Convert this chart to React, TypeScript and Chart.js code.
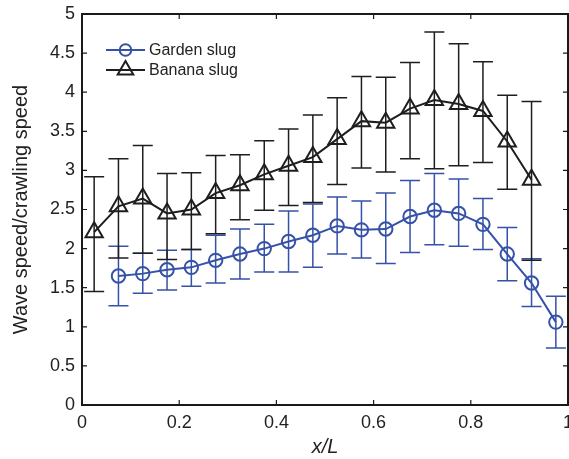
import React, { useEffect, useRef } from "react";
import { Chart, registerables } from "chart.js";

Chart.register(...registerables);

// ---- data ----
const bananaX = [0.025, 0.075, 0.125, 0.175, 0.225, 0.275, 0.325, 0.375, 0.425, 0.475, 0.525, 0.575, 0.625, 0.675, 0.725, 0.775, 0.825, 0.875, 0.925];
const bananaY = [2.21, 2.54, 2.64, 2.45, 2.5, 2.71, 2.81, 2.95, 3.06, 3.17, 3.4, 3.63, 3.61, 3.79, 3.9, 3.85, 3.76, 3.37, 2.88];
const bananaHi = [2.92, 3.15, 3.32, 2.96, 2.97, 3.19, 3.2, 3.38, 3.53, 3.71, 3.93, 4.2, 4.19, 4.38, 4.77, 4.62, 4.39, 3.96, 3.88];
const bananaLo = [1.45, 1.88, 1.94, 1.86, 1.99, 2.19, 2.37, 2.49, 2.55, 2.59, 2.82, 3.03, 2.98, 3.15, 3.02, 3.06, 3.1, 2.76, 1.85];

const gardenX = [0.075, 0.125, 0.175, 0.225, 0.275, 0.325, 0.375, 0.425, 0.475, 0.525, 0.575, 0.625, 0.675, 0.725, 0.775, 0.825, 0.875, 0.925, 0.975];
const gardenY = [1.65, 1.68, 1.73, 1.76, 1.85, 1.93, 2.0, 2.09, 2.17, 2.29, 2.24, 2.25, 2.41, 2.49, 2.45, 2.31, 1.93, 1.56, 1.06];
const gardenHi = [2.03, 1.94, 1.98, 1.99, 2.17, 2.25, 2.31, 2.48, 2.57, 2.66, 2.61, 2.71, 2.87, 2.96, 2.89, 2.64, 2.27, 1.87, 1.39];
const gardenLo = [1.27, 1.43, 1.47, 1.52, 1.56, 1.61, 1.7, 1.7, 1.76, 1.93, 1.88, 1.81, 1.95, 2.05, 2.03, 1.99, 1.59, 1.26, 0.73];

const xTicks = [0, 0.2, 0.4, 0.6, 0.8, 1];
const yTicks = [0, 0.5, 1, 1.5, 2, 2.5, 3, 3.5, 4, 4.5, 5];

const seriesNames = ["Garden slug", "Banana slug"];
const BLUE = "#3552a8";
const BLACK = "#1e1e1e";
const FONT = "'Liberation Sans', Arial, Helvetica, sans-serif";

const errorBars = [
  { x: gardenX, hi: gardenHi, lo: gardenLo, color: BLUE },
  { x: bananaX, hi: bananaHi, lo: bananaLo, color: BLACK },
];

const framePlugin = {
  id: "framePlugin",
  beforeDatasetsDraw(chart: any) {
    const { ctx, scales } = chart;
    const xs = scales.x;
    const ys = scales.y;
    ctx.save();
    ctx.lineWidth = 1.5;
    for (const eb of errorBars) {
      ctx.strokeStyle = eb.color;
      for (let i = 0; i < eb.x.length; i++) {
        const px = xs.getPixelForValue(eb.x[i]);
        const pHi = ys.getPixelForValue(eb.hi[i]);
        const pLo = ys.getPixelForValue(eb.lo[i]);
        const cap = 10;
        ctx.beginPath();
        ctx.moveTo(px, pHi);
        ctx.lineTo(px, pLo);
        ctx.moveTo(px - cap, pHi);
        ctx.lineTo(px + cap, pHi);
        ctx.moveTo(px - cap, pLo);
        ctx.lineTo(px + cap, pLo);
        ctx.stroke();
      }
    }
    ctx.restore();
  },
  afterDraw(chart: any) {
    const { ctx, chartArea, scales } = chart;
    const { left, right, top, bottom } = chartArea;
    const xs = scales.x;
    const ys = scales.y;
    ctx.save();
    ctx.strokeStyle = "#1a1a1a";
    ctx.lineWidth = 2;
    ctx.strokeRect(left, top, right - left, bottom - top);
    ctx.lineWidth = 1.2;
    const tl = 5;
    ctx.beginPath();
    for (const v of xTicks) {
      const px = xs.getPixelForValue(v);
      ctx.moveTo(px, bottom);
      ctx.lineTo(px, bottom - tl);
      ctx.moveTo(px, top);
      ctx.lineTo(px, top + tl);
    }
    for (const v of yTicks) {
      const py = ys.getPixelForValue(v);
      ctx.moveTo(left, py);
      ctx.lineTo(left + tl, py);
      ctx.moveTo(right, py);
      ctx.lineTo(right - tl, py);
    }
    ctx.stroke();

    // legend
    const lx0 = left + 24;
    const lx1 = left + 63;
    const rows = [
      { y: top + 36, color: BLUE, style: "circle", name: seriesNames[0] },
      { y: top + 56, color: BLACK, style: "triangle", name: seriesNames[1] },
    ];
    ctx.font = `16px ${FONT}`;
    ctx.textBaseline = "middle";
    ctx.textAlign = "left";
    for (const r of rows) {
      ctx.strokeStyle = r.color;
      ctx.lineWidth = 2;
      ctx.beginPath();
      ctx.moveTo(lx0, r.y);
      ctx.lineTo(lx1, r.y);
      ctx.stroke();
      const cx = (lx0 + lx1) / 2;
      ctx.beginPath();
      if (r.style === "circle") {
        ctx.arc(cx, r.y, 5.8, 0, Math.PI * 2);
      } else {
        const rad = 9;
        ctx.moveTo(cx, r.y - rad);
        ctx.lineTo(cx + rad * Math.sin(Math.PI / 3), r.y + rad / 2);
        ctx.lineTo(cx - rad * Math.sin(Math.PI / 3), r.y + rad / 2);
        ctx.closePath();
      }
      ctx.stroke();
      ctx.fillStyle = "#222";
      ctx.fillText(r.name, lx1 + 4, r.y + 1);
    }
    ctx.restore();
  },
};

export default function App() {
  const ref = useRef<HTMLCanvasElement | null>(null);
  useEffect(() => {
    document.body.style.margin = "0";
    const canvas = ref.current;
    if (!canvas) return;
    const chart = new Chart(canvas, {
      type: "scatter",
      data: {
        datasets: [
          {
            label: seriesNames[0],
            data: gardenX.map((x, i) => ({ x, y: gardenY[i] })),
            showLine: true,
            borderColor: BLUE,
            backgroundColor: "rgba(0,0,0,0)",
            borderWidth: 2,
            pointStyle: "circle",
            pointRadius: 6.7,
            pointBorderWidth: 2,
            pointBorderColor: BLUE,
            pointBackgroundColor: "rgba(0,0,0,0)",
            tension: 0,
            clip: false,
          },
          {
            label: seriesNames[1],
            data: bananaX.map((x, i) => ({ x, y: bananaY[i] })),
            showLine: true,
            borderColor: BLACK,
            backgroundColor: "rgba(0,0,0,0)",
            borderWidth: 2,
            pointStyle: "triangle",
            pointRadius: 10,
            pointBorderWidth: 2,
            pointBorderColor: BLACK,
            pointBackgroundColor: "rgba(0,0,0,0)",
            tension: 0,
            clip: false,
          },
        ],
      },
      options: {
        animation: false,
        responsive: false,
        maintainAspectRatio: false,
        layout: { autoPadding: false, padding: { top: 14, right: 1, left: 0, bottom: 0 } },
        plugins: { legend: { display: false }, tooltip: { enabled: false } },
        scales: {
          x: {
            type: "linear",
            min: 0,
            max: 1,
            grid: { display: false, drawTicks: false },
            border: { display: false },
            afterBuildTicks: (scale: any) => {
              scale.ticks = xTicks.map((v) => ({ value: v }));
            },
            afterFit: (scale: any) => {
              scale.height = 54;
              scale.paddingLeft = 0;
              scale.paddingRight = 0;
            },
            ticks: {
              padding: 7,
              color: "#222",
              maxRotation: 0,
              autoSkip: false,
              font: { family: FONT, size: 18 },
              callback: (v: any) => String(Math.round(Number(v) * 10) / 10),
            },
            title: {
              display: true,
              text: "x/L",
              color: "#222",
              font: { family: FONT, size: 20, style: "italic" },
              padding: { top: 0, bottom: 0 },
            },
          },
          y: {
            type: "linear",
            min: 0,
            max: 5,
            grid: { display: false, drawTicks: false },
            border: { display: false },
            afterBuildTicks: (scale: any) => {
              scale.ticks = yTicks.map((v) => ({ value: v }));
            },
            afterFit: (scale: any) => {
              scale.width = 82;
              scale.paddingTop = 0;
              scale.paddingBottom = 0;
            },
            ticks: {
              padding: 7,
              color: "#222",
              autoSkip: false,
              font: { family: FONT, size: 18 },
              callback: (v: any) => String(Math.round(Number(v) * 10) / 10),
            },
            title: {
              display: true,
              text: "Wave speed/crawling speed",
              color: "#222",
              font: { family: FONT, size: 20 },
              padding: { top: 9, bottom: 0 },
            },
          },
        },
      },
      plugins: [framePlugin],
    });
    return () => chart.destroy();
  }, []);
  return (
    <div style={{ width: 569, height: 459, position: "relative" }}>
      <canvas ref={ref} width={569} height={459} style={{ width: 569, height: 459, display: "block" }} />
    </div>
  );
}
